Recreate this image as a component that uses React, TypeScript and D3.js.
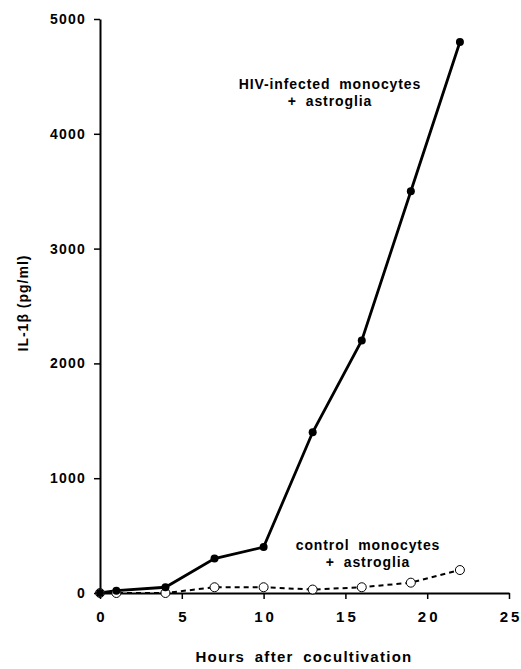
import React, { useEffect, useRef } from "react";
import * as d3 from "d3";

const hours = [0, 1, 4, 7, 10, 13, 16, 19, 22];
const hivValues = [0, 20, 50, 300, 400, 1400, 2200, 3500, 4800];
const controlValues = [0, 0, 0, 50, 50, 30, 50, 90, 200];
const xTicks = [0, 5, 10, 15, 20, 25];
const yTicks = [0, 1000, 2000, 3000, 4000, 5000];

const width = 521;
const height = 669;

const App = () => {
  const svgRef = useRef<SVGSVGElement>(null);

  useEffect(() => {
    const svg = d3.select(svgRef.current);
    svg.selectAll("*").remove();

    const x = d3.scaleLinear().domain([0, 25]).range([100, 509]);
    const y = d3.scaleLinear().domain([0, 5000]).range([593, 19]);
    const font = "'Liberation Sans', Arial, sans-serif";

    const xAxis = svg.append("g")
      .attr("transform", `translate(0, ${y(0)})`)
      .call(d3.axisBottom(x).tickValues(xTicks).tickFormat(d3.format("d")).tickSize(6).tickPadding(12).tickSizeOuter(0));
    xAxis.select(".domain").attr("stroke-width", 2);
    xAxis.selectAll(".tick line").attr("stroke-width", 1.5);
    xAxis.selectAll("text")
      .attr("font-family", font)
      .attr("font-weight", "bold")
      .attr("font-size", 15)
      .attr("letter-spacing", 3)
      .attr("dx", 1.5)
      .attr("fill", "#000");

    const yAxis = svg.append("g")
      .attr("transform", `translate(${x(0)}, 0)`)
      .call(d3.axisLeft(y).tickValues(yTicks).tickFormat(d3.format("d")).tickSize(6).tickPadding(8).tickSizeOuter(0));
    yAxis.select(".domain").attr("stroke-width", 2);
    yAxis.selectAll(".tick line").attr("stroke-width", 1.5);
    yAxis.selectAll("text")
      .attr("font-family", font)
      .attr("font-weight", "bold")
      .attr("font-size", 14)
      .attr("letter-spacing", 1.2)
      .attr("fill", "#000");

    const line = d3.line<number>()
      .x((_, i) => x(hours[i]))
      .y((d) => y(d));

    svg.append("path")
      .datum(controlValues)
      .attr("d", line)
      .attr("fill", "none")
      .attr("stroke", "#000")
      .attr("stroke-width", 2)
      .attr("stroke-dasharray", "5,4");

    svg.append("path")
      .datum(hivValues)
      .attr("d", line)
      .attr("fill", "none")
      .attr("stroke", "#000")
      .attr("stroke-width", 2.8);

    svg.selectAll("circle.control")
      .data(controlValues)
      .join("circle")
      .attr("class", "control")
      .attr("cx", (_, i) => x(hours[i]))
      .attr("cy", (d) => y(d))
      .attr("r", 4.5)
      .attr("fill", "#fff")
      .attr("stroke", "#000")
      .attr("stroke-width", 1);

    svg.selectAll("circle.hiv")
      .data(hivValues)
      .join("circle")
      .attr("class", "hiv")
      .attr("cx", (_, i) => x(hours[i]))
      .attr("cy", (d) => y(d))
      .attr("r", 4)
      .attr("fill", "#000");

    const label = (tx: number, ty: number, text: string, size = 14, spacing = 0.9) =>
      svg.append("text")
        .attr("x", tx)
        .attr("y", ty)
        .attr("text-anchor", "middle")
        .attr("font-family", font)
        .attr("font-weight", "bold")
        .attr("font-size", size)
        .attr("letter-spacing", spacing)
        .attr("word-spacing", 4)
        .attr("fill", "#000")
        .text(text);

    label(330, 89, "HIV-infected monocytes");
    label(330, 106, "+ astroglia");
    label(368, 550, "control monocytes");
    label(368, 567, "+ astroglia");
    label(304, 662, "Hours after cocultivation", 15, 1.3);

    svg.append("text")
      .attr("transform", `translate(28, 303) rotate(-90)`)
      .attr("text-anchor", "middle")
      .attr("font-family", font)
      .attr("font-weight", "bold")
      .attr("font-size", 14)
      .attr("letter-spacing", 1)
      .attr("fill", "#000")
      .text("IL-1β (pg/ml)");
  }, []);

  return (
    <svg
      ref={svgRef}
      width={width}
      height={height}
      style={{ position: "absolute", left: 0, top: 0, background: "#fff" }}
    />
  );
};

export default App;
